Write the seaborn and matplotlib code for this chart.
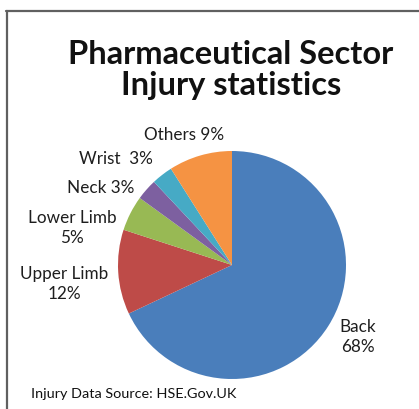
import matplotlib.pyplot as plt
import seaborn as sns

# injury share by body part (percent), clockwise from 12 o'clock
parts = ["Back", "Upper Limb", "Lower Limb", "Neck", "Wrist", "Others"]
shares = [68, 12, 5, 3, 3, 9]
label_text = ["Back\n68%", "Upper Limb\n12%", "Lower Limb\n5%", "Neck 3%", "Wrist  3%", "Others 9%"]
slice_colors = ["#4A7EBB", "#BE4B48", "#98B954", "#7D60A0", "#46AAC5", "#F59343"]

title = "Pharmaceutical Sector\nInjury statistics"
source = "Injury Data Source: HSE.Gov.UK"

# label anchor points in pixels (x from left, y from top)
label_pos = {
    "Back": (358, 337),
    "Upper Limb": (64, 284),
    "Lower Limb": (72, 228),
    "Neck": (101, 188),
    "Wrist": (116, 159),
    "Others": (184, 135),
}

sns.set_theme(style="white")
plt.rcParams["font.family"] = ["Lato", "DejaVu Sans"]

W, H = 419, 410
fig = plt.figure(figsize=(W / 100, H / 100), dpi=100)
fig.patch.set_facecolor("white")

# pie placed by pixel centre and radius
cx, cy, r = 232, 266, 114
ax = fig.add_axes([(cx - r) / W, (H - cy - r) / H, 2 * r / W, 2 * r / H])
ax.pie(shares, colors=slice_colors, startangle=90, counterclock=False,
       radius=1, wedgeprops=dict(linewidth=0))
ax.set_xlim(-1, 1)
ax.set_ylim(-1, 1)
ax.set_aspect("equal")
ax.axis("off")

for name, txt in zip(parts, label_text):
    px, py = label_pos[name]
    fig.text(px / W, 1 - py / H, txt, ha="center", va="center",
             fontsize=12.3, color="#1e1e1e", linespacing=1.3)

fig.text(231 / W, 1 - 70 / H, title, ha="center", va="center",
         fontsize=23.5, fontweight="bold", color="#111111", linespacing=1.05)

fig.text(31 / W, 1 - 394 / H, source, ha="left", va="center",
         fontsize=10.4, color="#111111")

# frame lines at top and left
fig.add_artist(plt.Line2D([6 / W, 1], [1 - 12 / H, 1 - 12 / H], color="#606060", lw=1.6))
fig.add_artist(plt.Line2D([7 / W, 7 / W], [0, 1 - 12 / H], color="#606060", lw=1.6))

fig.savefig("out.png", dpi=100)
